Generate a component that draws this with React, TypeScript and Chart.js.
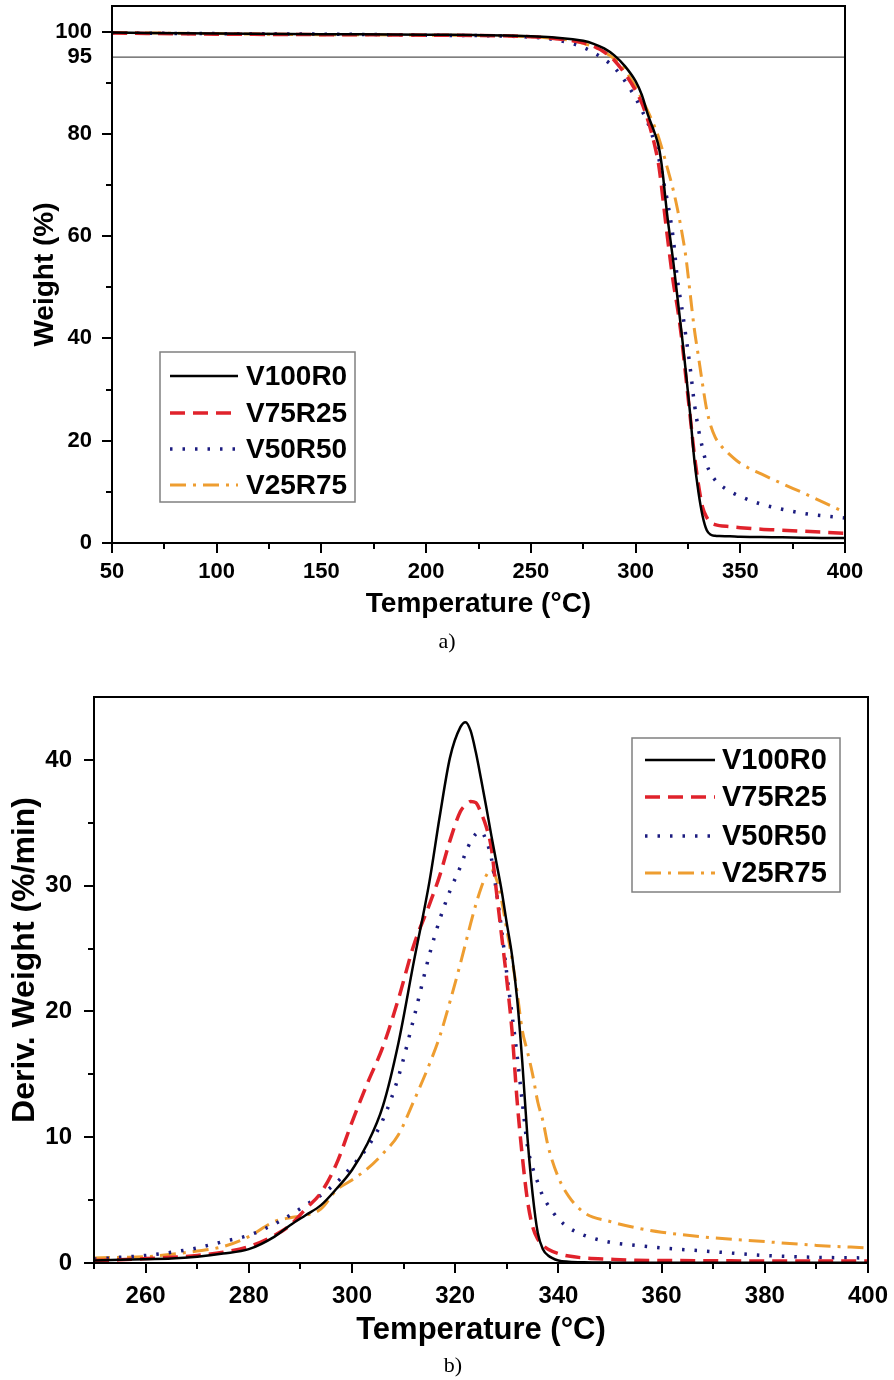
import React, { useEffect, useRef } from 'react';
import { Chart, registerables } from 'chart.js';

Chart.register(...registerables);

// ---------- data ----------
const SERIES_NAMES = ['V100R0', 'V75R25', 'V50R50', 'V25R75'];

// (a) TGA: weight (%) vs temperature (°C)
const TGA_TEMP = [50, 100, 150, 200, 250, 260, 270, 275, 280, 285, 290, 295, 300, 303, 306, 309, 311, 312, 313, 314, 315, 318, 320, 322, 324, 326, 328, 330, 332, 334, 336, 338, 340, 345, 350, 360, 370, 380, 390, 400];
const TGA_V100R0 = [99.8, 99.6, 99.5, 99.4, 99.1, 98.9, 98.5, 98.2, 97.6, 96.7, 95.3, 93.2, 90.3, 87.6, 83.6, 80.3, 77.6, 75.3, 72.2, 68.3, 64.5, 55.0, 48.0, 41.0, 33.5, 25.5, 16.5, 10.0, 5.3, 2.5, 1.6, 1.4, 1.35, 1.3, 1.2, 1.15, 1.1, 1.05, 1.0, 1.0];
const TGA_V75R25 = [99.7, 99.5, 99.4, 99.3, 99.0, 98.7, 98.2, 97.8, 97.1, 96.0, 94.3, 91.7, 88.5, 86.0, 82.5, 78.0, 74.0, 71.0, 67.5, 64.0, 60.5, 51.0, 46.0, 40.0, 32.5, 25.0, 17.5, 11.5, 7.0, 5.0, 4.0, 3.6, 3.4, 3.2, 3.0, 2.7, 2.5, 2.3, 2.1, 1.9];
const TGA_V50R50 = [99.7, 99.6, 99.5, 99.3, 98.9, 98.5, 97.6, 96.9, 95.9, 94.6, 92.9, 90.3, 87.0, 84.6, 82.0, 78.3, 75.3, 73.5, 71.5, 69.3, 67.3, 59.5, 51.5, 46.2, 40.5, 34.5, 27.5, 22.3, 18.5, 15.3, 13.5, 12.3, 11.5, 10.1, 9.1, 7.6, 6.6, 5.8, 5.3, 4.9];
const TGA_V25R75 = [99.8, 99.6, 99.4, 99.3, 99.0, 98.7, 98.2, 97.7, 97.0, 96.0, 94.6, 92.4, 89.2, 86.8, 84.3, 81.5, 79.3, 78.0, 76.6, 75.1, 73.6, 69.0, 65.3, 61.0, 56.0, 49.0, 42.0, 36.5, 31.0, 26.0, 22.8, 20.7, 19.4, 17.3, 15.6, 13.5, 11.6, 9.8, 7.9, 6.0];
const TGA_THRESHOLD = 95;

// (b) DTG: deriv. weight (%/min) vs temperature (°C)
const DTG_TEMP = [250, 255, 260, 265, 270, 275, 280, 285, 288, 291, 294, 297, 300, 303, 306, 309, 312, 315, 317, 319, 321, 322, 323, 324, 325, 326, 327, 328, 329, 330, 331, 332, 333, 334, 335, 336, 337, 338, 340, 342, 345, 350, 355, 360, 370, 380, 390, 400];
const DTG_V100R0 = [0.2, 0.25, 0.3, 0.35, 0.5, 0.75, 1.1, 2.1, 3.0, 3.8, 4.6, 5.9, 7.4, 9.5, 12.5, 17.5, 24.0, 30.3, 35.5, 40.2, 42.6, 43.0, 42.3, 40.6, 38.5, 36.3, 34.0, 31.8, 29.6, 27.0, 24.5, 21.0, 16.0, 10.0, 5.5, 2.4, 1.1, 0.6, 0.2, 0.1, 0.05, 0.03, 0.02, 0.02, 0.02, 0.02, 0.02, 0.02];
const DTG_V75R25 = [0.2, 0.25, 0.35, 0.45, 0.6, 0.85, 1.3, 2.2, 3.0, 4.3, 5.6, 7.9, 11.2, 14.3, 17.2, 21.0, 25.3, 28.5, 30.8, 33.6, 35.9, 36.4, 36.7, 36.6, 35.8, 34.7, 33.0, 29.5, 26.0, 22.5, 18.5, 12.9, 8.5, 5.0, 2.9, 1.9, 1.4, 1.1, 0.75, 0.55, 0.4, 0.3, 0.22, 0.2, 0.18, 0.16, 0.15, 0.15];
const DTG_V50R50 = [0.3, 0.45, 0.6, 0.85, 1.2, 1.7, 2.2, 3.1, 3.8, 4.6, 5.4, 6.4, 7.7, 9.2, 11.4, 14.8, 19.5, 24.5, 27.3, 29.6, 31.5, 32.6, 33.5, 34.1, 34.3, 33.6, 32.2, 29.5, 26.5, 23.0, 19.8, 16.5, 12.8, 9.3, 7.6, 6.4, 5.3, 4.6, 3.5, 2.8, 2.2, 1.65, 1.4, 1.2, 0.9, 0.6, 0.45, 0.4];
const DTG_V25R75 = [0.4, 0.45, 0.5, 0.7, 0.95, 1.3, 2.1, 3.3, 3.6, 3.8, 4.3, 5.8, 6.6, 7.5, 8.7, 10.2, 12.9, 15.8, 18.0, 20.8, 23.8, 25.4, 27.0, 28.5, 29.8, 30.8, 31.3, 30.5, 28.8, 26.5, 24.2, 21.5, 18.5, 16.8, 15.0, 12.8, 11.3, 9.3, 6.8, 5.3, 4.0, 3.3, 2.8, 2.45, 2.0, 1.7, 1.4, 1.2];

// ticks
const TGA_X_MAJOR = [50, 100, 150, 200, 250, 300, 350, 400];
const TGA_X_MINOR = [75, 125, 175, 225, 275, 325, 375];
const TGA_Y_LABELS = [0, 20, 40, 60, 80, 95, 100];
const TGA_Y_MAJOR = [0, 20, 40, 60, 80, 100];
const TGA_Y_MINOR = [10, 30, 50, 70, 90];
const DTG_X_MAJOR = [260, 280, 300, 320, 340, 360, 380, 400];
const DTG_X_MINOR = [250, 270, 290, 310, 330, 350, 370, 390];
const DTG_Y_MAJOR = [0, 10, 20, 30, 40];
const DTG_Y_MINOR = [5, 15, 25, 35];

// ---------- styles ----------
const FONT = '"Liberation Sans", Arial, Helvetica, sans-serif';
const LINE_STYLES = [
  { color: '#000000', width: 2.5, dash: [] as number[] },
  { color: '#e0222b', width: 3.5, dash: [15, 8] },
  { color: '#1c1c80', width: 3.5, dash: [2.5, 10] },
  { color: '#ee9d30', width: 3, dash: [16, 7, 3, 7] },
];

const framePlugin = {
  id: 'frame',
  afterDatasetsDraw(chart: any, _args: any, opts: any) {
    const { ctx, chartArea: ca, scales } = chart;
    const xs = scales.x;
    const ys = scales.y;
    ctx.save();
    ctx.strokeStyle = '#000';
    ctx.lineWidth = 2;
    ctx.setLineDash([]);
    ctx.beginPath();
    const xt = (vals: number[], len: number) => {
      for (const v of vals) {
        const p = Math.round(xs.getPixelForValue(v));
        ctx.moveTo(p, ca.bottom);
        ctx.lineTo(p, ca.bottom + len);
      }
    };
    const yt = (vals: number[], len: number) => {
      for (const v of vals) {
        const p = Math.round(ys.getPixelForValue(v));
        ctx.moveTo(ca.left, p);
        ctx.lineTo(ca.left - len, p);
      }
    };
    xt(opts.xMajor, 10);
    xt(opts.xMinor, 6);
    yt(opts.yMajor, 10);
    yt(opts.yMinor, 6);
    ctx.stroke();
    ctx.strokeRect(ca.left, ca.top, ca.right - ca.left, ca.bottom - ca.top);

    // custom-positioned y title
    if (opts.yTitle) {
      const t = opts.yTitle;
      ctx.save();
      ctx.translate(t.x, t.y);
      ctx.rotate(-Math.PI / 2);
      ctx.fillStyle = '#000';
      ctx.font = `bold ${t.size}px ${FONT}`;
      ctx.textAlign = 'center';
      ctx.textBaseline = 'middle';
      ctx.fillText(t.text, 0, 0);
      ctx.restore();
    }

    // legend
    const L = opts.legend;
    ctx.fillStyle = '#fff';
    ctx.fillRect(L.x, L.y, L.w, L.h);
    ctx.lineWidth = 1.5;
    ctx.strokeStyle = '#808080';
    ctx.strokeRect(L.x, L.y, L.w, L.h);
    const items = chart.data.datasets.filter((d: any) => !d.hideInLegend);
    items.forEach((ds: any, i: number) => {
      const y = L.rows[i];
      ctx.beginPath();
      ctx.setLineDash(ds.borderDash || []);
      ctx.strokeStyle = ds.borderColor;
      ctx.lineWidth = ds.borderWidth;
      ctx.moveTo(L.lineX0, y);
      ctx.lineTo(L.lineX1, y);
      ctx.stroke();
      ctx.setLineDash([]);
      ctx.fillStyle = '#000';
      ctx.font = `bold ${L.fontSize}px ${FONT}`;
      ctx.textBaseline = 'middle';
      ctx.textAlign = 'left';
      ctx.fillText(ds.label, L.textX, y + 1);
    });
    ctx.restore();
  },
};

function makeSeries(temps: number[], values: number[][]) {
  return values.map((vals, i) => ({
    label: SERIES_NAMES[i],
    data: temps.map((t, j) => ({ x: t, y: vals[j] })),
    borderColor: LINE_STYLES[i].color,
    borderWidth: LINE_STYLES[i].width,
    borderDash: LINE_STYLES[i].dash,
    pointRadius: 0,
    fill: false,
    cubicInterpolationMode: 'monotone',
  }));
}

function axisCommon(size: number) {
  return {
    grid: { display: false, drawTicks: false },
    border: { display: false },
    ticks: { color: '#000', font: { family: FONT, size, weight: 'bold' }, autoSkip: false, maxRotation: 0 },
  };
}

function TgaChart() {
  const ref = useRef<HTMLCanvasElement>(null);
  useEffect(() => {
    const datasets: any[] = makeSeries(TGA_TEMP, [TGA_V100R0, TGA_V75R25, TGA_V50R50, TGA_V25R75]);
    datasets.push({
      label: '95%',
      hideInLegend: true,
      data: [{ x: 50, y: TGA_THRESHOLD }, { x: 400, y: TGA_THRESHOLD }],
      borderColor: '#555',
      borderWidth: 1.2,
      pointRadius: 0,
    });
    const xc = axisCommon(22);
    const yc = axisCommon(22);
    const chart = new Chart(ref.current!, {
      type: 'line',
      data: { datasets },
      plugins: [framePlugin],
      options: {
        responsive: false,
        animation: false,
        layout: { padding: { top: 6, right: 49, left: 0, bottom: 0 } },
        plugins: {
          legend: { display: false },
          tooltip: { enabled: false },
          frame: {
            xMajor: TGA_X_MAJOR, xMinor: TGA_X_MINOR, yMajor: TGA_Y_MAJOR, yMinor: TGA_Y_MINOR,
            legend: { x: 160, y: 352, w: 195, h: 150, rows: [376, 413, 449, 485], lineX0: 170, lineX1: 238, textX: 246, fontSize: 28 },
          },
        } as any,
        scales: {
          x: {
            type: 'linear', min: 50, max: 400,
            ...xc,
            ticks: { ...xc.ticks, padding: 16 },
            afterBuildTicks: (s: any) => { s.ticks = TGA_X_MAJOR.map((v) => ({ value: v })); },
            afterFit: (s: any) => { s.height = 87; s.paddingLeft = 0; s.paddingRight = 0; },
            title: { display: true, text: 'Temperature (°C)', color: '#000', font: { family: FONT, size: 28, weight: 'bold' }, padding: { top: 0, bottom: 9 } },
          },
          y: {
            type: 'linear', min: 0, max: 105,
            ...yc,
            ticks: { ...yc.ticks, padding: 20 },
            afterBuildTicks: (s: any) => { s.ticks = TGA_Y_LABELS.map((v) => ({ value: v })); },
            afterFit: (s: any) => { s.width = 112; s.paddingTop = 0; s.paddingBottom = 0; },
            title: { display: true, text: 'Weight (%)', color: '#000', font: { family: FONT, size: 28, weight: 'bold' }, padding: { top: 28, bottom: 0 } },
          },
        },
      } as any,
    });
    return () => chart.destroy();
  }, []);
  return <canvas ref={ref} width={894} height={630} style={{ position: 'absolute', left: 0, top: 0, width: 894, height: 630 }} />;
}

function DtgChart() {
  const ref = useRef<HTMLCanvasElement>(null);
  useEffect(() => {
    const datasets: any[] = makeSeries(DTG_TEMP, [DTG_V100R0, DTG_V75R25, DTG_V50R50, DTG_V25R75]);
    const xc = axisCommon(24);
    const yc = axisCommon(24);
    const chart = new Chart(ref.current!, {
      type: 'line',
      data: { datasets },
      plugins: [framePlugin],
      options: {
        responsive: false,
        animation: false,
        layout: { padding: { top: 42, right: 26, left: 0, bottom: 0 } },
        plugins: {
          legend: { display: false },
          tooltip: { enabled: false },
          frame: {
            xMajor: DTG_X_MAJOR, xMinor: DTG_X_MINOR, yMajor: DTG_Y_MAJOR, yMinor: DTG_Y_MINOR,
            yTitle: { text: 'Deriv. Weight (%/min)', x: 25, y: 305, size: 32 },
            legend: { x: 632, y: 83, w: 208, h: 154, rows: [105, 142, 181, 218], lineX0: 645, lineX1: 715, textX: 722, fontSize: 29 },
          },
        } as any,
        scales: {
          x: {
            type: 'linear', min: 250, max: 400,
            ...xc,
            ticks: { ...xc.ticks, padding: 19 },
            afterBuildTicks: (s: any) => { s.ticks = DTG_X_MAJOR.map((v) => ({ value: v })); },
            afterFit: (s: any) => { s.height = 97; s.paddingLeft = 0; s.paddingRight = 0; },
            title: { display: true, text: 'Temperature (°C)', color: '#000', font: { family: FONT, size: 31, weight: 'bold' }, padding: { top: 0, bottom: 11 } },
          },
          y: {
            type: 'linear', min: 0, max: 45,
            ...yc,
            ticks: { ...yc.ticks, padding: 22 },
            afterBuildTicks: (s: any) => { s.ticks = DTG_Y_MAJOR.map((v) => ({ value: v })); },
            afterFit: (s: any) => { s.width = 94; s.paddingTop = 0; s.paddingBottom = 0; },
          },
        },
      } as any,
    });
    return () => chart.destroy();
  }, []);
  return <canvas ref={ref} width={894} height={705} style={{ position: 'absolute', left: 0, top: 655, width: 894, height: 705 }} />;
}

const captionStyle: React.CSSProperties = {
  position: 'absolute',
  width: 894,
  left: 0,
  textAlign: 'center',
  fontFamily: '"Liberation Serif", "Times New Roman", serif',
  fontSize: 22,
  color: '#000',
  lineHeight: '24px',
  zIndex: 2,
};

export default function App() {
  return (
    <div style={{ position: 'absolute', left: 0, top: 0, width: 894, height: 1380, background: '#fff', overflow: 'hidden' }}>
      <TgaChart />
      <div style={{ ...captionStyle, top: 629 }}>a)</div>
      <DtgChart />
      <div style={{ ...captionStyle, top: 1353, left: 6 }}>b)</div>
    </div>
  );
}
